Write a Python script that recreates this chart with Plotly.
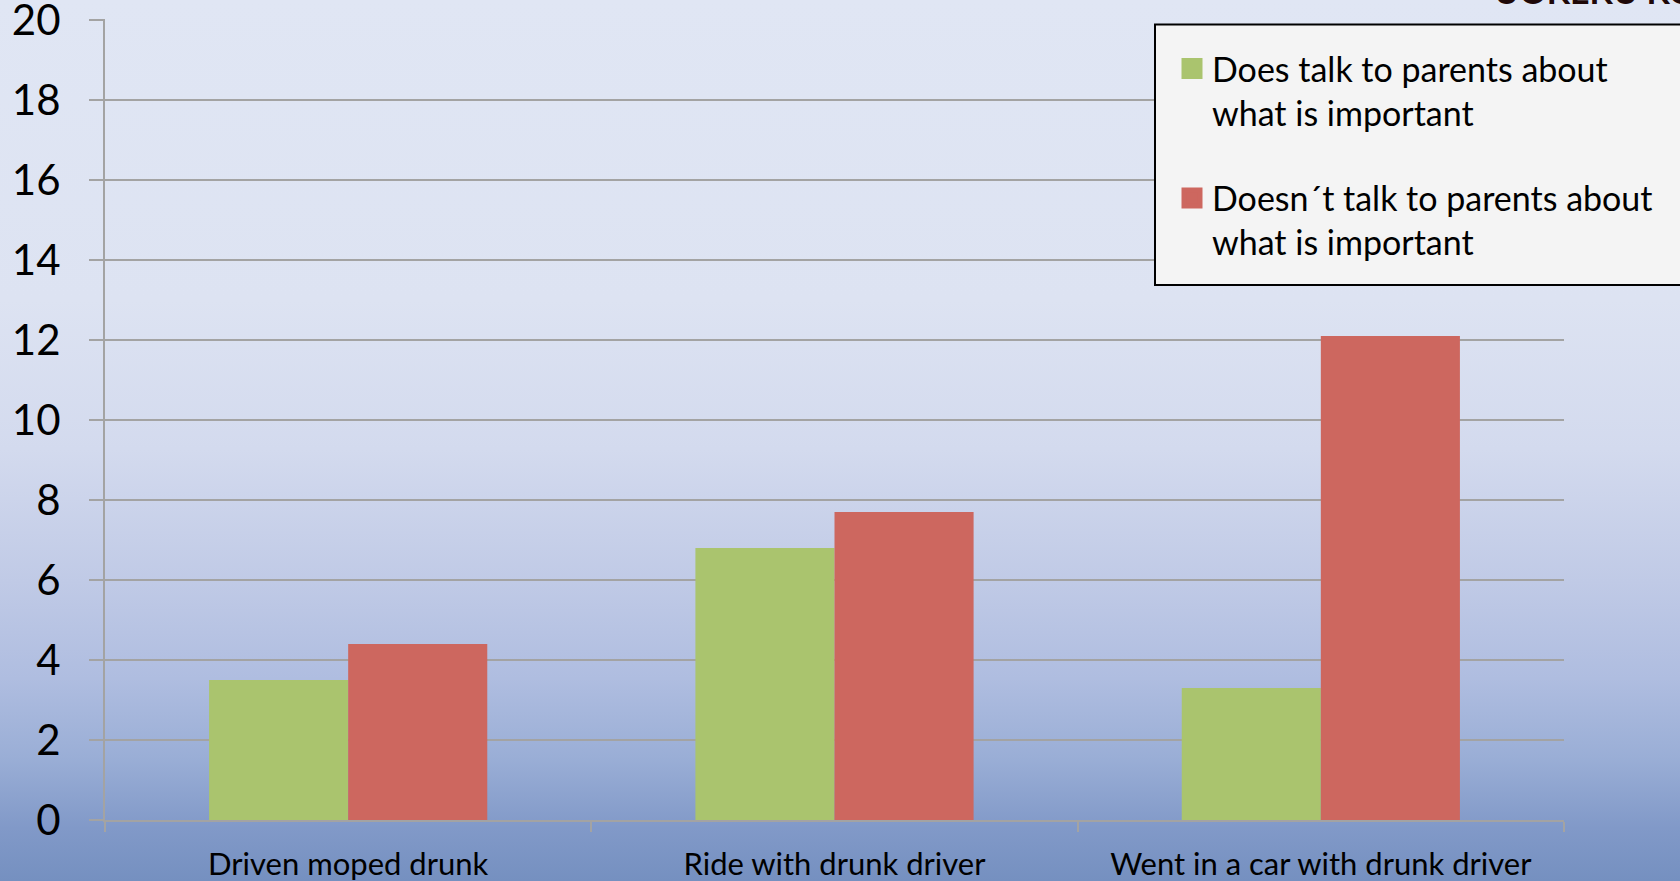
import plotly.graph_objects as go
import urllib.parse

categories = ["Driven moped drunk", "Ride with drunk driver", "Went in a car with drunk driver"]
series_names = ["Does talk to parents about<br>what is important",
                "Doesn´t talk to parents about<br>what is important"]
talks = [3.5, 6.8, 3.3]
doesnt_talk = [4.4, 7.7, 12.1]
y_ticks = [0, 2, 4, 6, 8, 10, 12, 14, 16, 18, 20]

GREEN = "#aac46e"
RED = "#cd675f"
GRID = "#a3a3a3"
FONT = "Lato"

W, H = 1680, 881
ML, MR, MT, MB = 105, 116, 19, 61
PW, PH = W - ML - MR, H - MT - MB


def px_x(px):
    return (px - ML) / PW


def px_y(py):
    return (MT + PH - py) / PH


fig = go.Figure()
fig.add_trace(go.Bar(x=categories, y=talks, marker=dict(color=GREEN, line=dict(width=0)),
                     showlegend=False, name=series_names[0]))
fig.add_trace(go.Bar(x=categories, y=doesnt_talk, marker=dict(color=RED, line=dict(width=0)),
                     showlegend=False, name=series_names[1]))
# legend entries
for nm, col, grp in [(series_names[0], GREEN, "a"), (series_names[1], RED, "b")]:
    fig.add_trace(go.Scatter(x=[categories[0]], y=[None], mode="markers", name=nm,
                             legendgroup=grp,
                             marker=dict(symbol="square", size=16, color=col,
                                         line=dict(width=5, color=col))))

# background gradient as svg image
stops = [(0.0, "#e0e6f4"), (0.34, "#dde3f2"), (0.51, "#d3daee"), (0.66, "#c0cae6"),
         (0.77, "#afbde0"), (0.86, "#9aaed6"), (0.94, "#8199c8"), (1.0, "#7590c0")]
stop_xml = "".join(f'<stop offset="{o}" stop-color="{c}"/>' for o, c in stops)
svg = (f'<svg xmlns="http://www.w3.org/2000/svg" width="{W}" height="{H}" preserveAspectRatio="none">'
       f'<defs><linearGradient id="g" x1="0" y1="0" x2="0" y2="1">{stop_xml}</linearGradient></defs>'
       f'<rect width="{W}" height="{H}" fill="url(#g)"/></svg>')
src = "data:image/svg+xml;charset=utf-8," + urllib.parse.quote(svg)

fig.update_layout(
    width=W, height=H,
    margin=dict(l=ML, r=MR, t=MT, b=MB, autoexpand=False),
    paper_bgcolor="#7590c0", plot_bgcolor="rgba(0,0,0,0)",
    template="none",
    barmode="group", bargap=0.428, bargroupgap=0,
    font=dict(family=FONT, color="black"),
    images=[dict(source=src, xref="paper", yref="paper",
                 x=-ML / PW, y=1 + MT / PH, sizex=W / PW, sizey=H / PH,
                 xanchor="left", yanchor="top", sizing="stretch", layer="below")],
    shapes=[dict(type="rect", xref="paper", yref="paper", layer="above",
                 x0=px_x(1155), x1=px_x(1700), y0=px_y(285), y1=px_y(24.6),
                 fillcolor="#f4f4f4", line=dict(color="black", width=2))],
    legend=dict(xref="container", yref="container", x=1172 / W, y=1 - 40 / H,
                xanchor="left", yanchor="top", bgcolor="rgba(0,0,0,0)",
                borderwidth=0, valign="top",
                font=dict(family=FONT, size=34, color="black"),
                tracegroupgap=38, traceorder="grouped"),
    xaxis=dict(type="category", showgrid=False, showline=True, linecolor=GRID, linewidth=2,
               ticks="outside", tickson="boundaries", ticklen=10, tickcolor=GRID, tickwidth=1.5,
               tickfont=dict(family=FONT, size=31, color="black"), ticklabelstandoff=16,
               ticklabeloverflow="allow",
               zeroline=False, automargin=False, fixedrange=True),
    yaxis=dict(range=[0, 20.02], tickvals=y_ticks, showgrid=True, gridcolor=GRID, gridwidth=2,
               showline=True, linecolor=GRID, linewidth=2, ticks="outside", ticklen=14,
               tickcolor=GRID, tickwidth=2, zeroline=False, ticklabeloverflow="allow",
               tickfont=dict(family=FONT, size=42, color="black"), ticklabelstandoff=20,
               automargin=False, fixedrange=True),
    annotations=[dict(text="<b>UOKEKU KO</b>", xref="paper", yref="paper",
                      x=px_x(1492), y=1, xanchor="left", yanchor="bottom", yshift=6,
                      showarrow=False, font=dict(family=FONT, size=34, color="#1e0808"))],
)

fig.write_html("out.html", config={"displayModeBar": False},
               post_script="document.body.style.margin='0';")
